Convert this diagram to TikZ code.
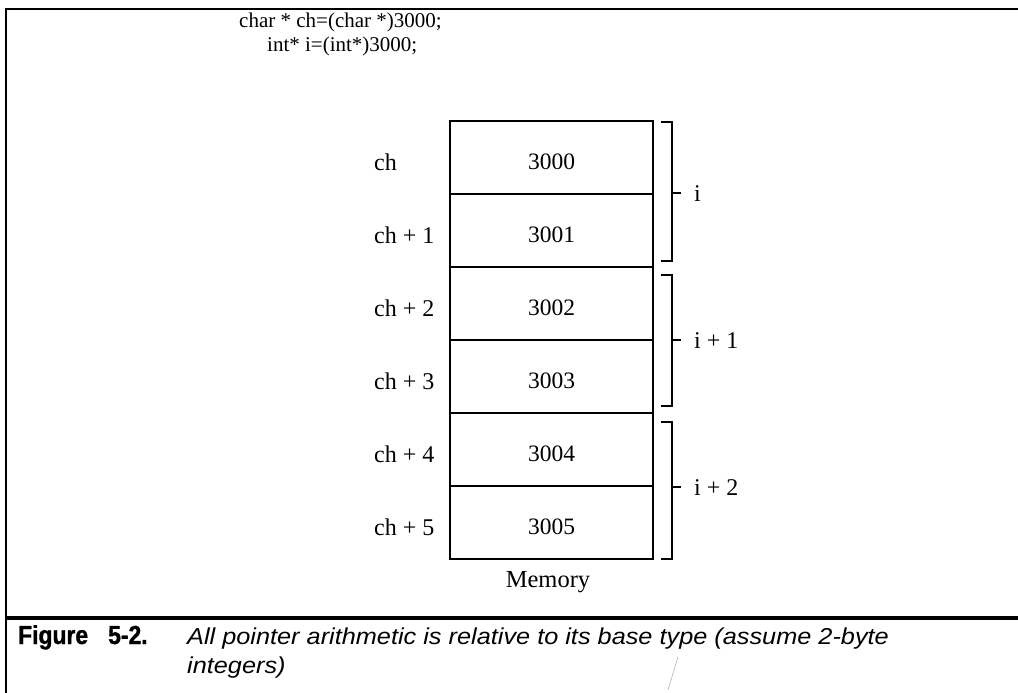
\documentclass[tikz,border=0pt]{standalone}
\usepackage{fontspec}
\setmainfont{Liberation Serif}
\newfontfamily\capbold[FakeStretch=0.88,BoldFeatures={FakeBold=1.2}]{Liberation Sans}
\newfontfamily\capital[FakeStretch=1.1]{Liberation Sans}
\begin{document}
\begin{tikzpicture}[x=1pt,y=-1pt,
  cell/.style={draw,line width=2pt,minimum width=203pt,minimum height=73pt,
    inner sep=0pt,text height=24pt,text depth=0pt,font=\fontsize{23.5}{28}\selectfont},
  addr/.style={anchor=base west,inner sep=0pt,font=\fontsize{24}{28}\selectfont},
  code/.style={anchor=base west,inner sep=0pt,font=\fontsize{21}{25}\selectfont},
  brk/.style={line width=2pt},
  caplabel/.style={anchor=base west,inner sep=0pt,font=\capbold\bfseries\fontsize{26}{30}\selectfont},
  captext/.style={anchor=base west,inner sep=0pt,font=\capital\itshape\fontsize{23}{27}\selectfont}]
\useasboundingbox (0,0) rectangle (1018,693);
\fill[white] (0,0) rectangle (1018,693);

% outer frame and caption rule
\draw[line width=2pt] (1018,9) -- (6,9) -- (6,693);
\draw[line width=4pt] (6,618) -- (1018,618);

% declarations
\node[code] (decl1) at (239,28) {char * ch=(char *)3000;};
\node[code] (decl2) at (267,52) {int* i=(int*)3000;};

% memory cells with their char-pointer labels
\foreach \k in {0,...,5}{
  \node[cell] (m\k) at (551.5,{157.5+73*\k}) {300\k};
  \ifnum\k=0
    \node[addr] (ch\k) at (374,{170+73*\k}) {ch};
  \else
    \node[addr] (ch\k) at (374,{170+73*\k}) {ch + \k};
  \fi
}
\node[anchor=base,inner sep=0pt,font=\fontsize{24.5}{29}\selectfont] (mem) at (548,587) {Memory};

% brackets grouping two bytes per int
\foreach \t/\b/\m/\lab [count=\n from 0] in {122/261/193/i, 275/406/340/i + 1, 422/559/487/i + 2}{
  \draw[brk] (661,\t) -- (672,\t) -- (672,\b) -- (661,\b);
  \coordinate (tick\n) at (681,\m);
  \draw[brk] (672,\m) -- (tick\n);
  \node[addr] (ip\n) at (694,{\m+8}) {\lab};
}

% caption
\node[caplabel] (fig) at (18,644) {Figure};
\node[caplabel] (fignum) at (108,644) {5-2.};
\node[captext] (cap1) at (187,644) {All pointer arithmetic is relative to its base type (assume 2-byte};
\node[captext] (cap2) at (187,673) {integers)};
\draw[gray!60,line width=0.6pt] (678,657) -- (668,690);
\end{tikzpicture}
\end{document}
